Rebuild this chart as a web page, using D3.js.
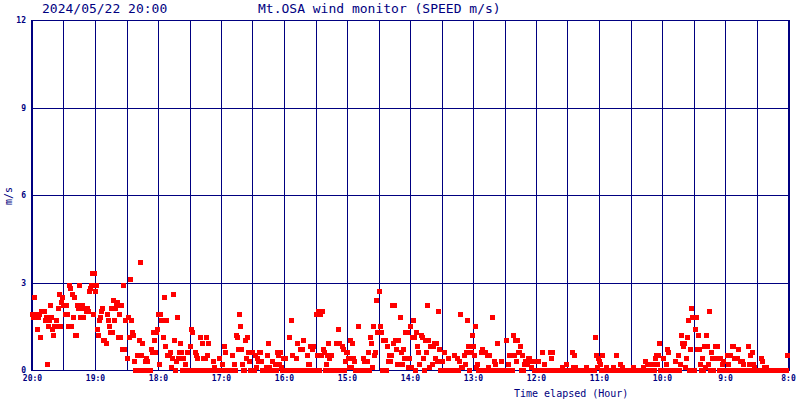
<!DOCTYPE html>
<html><head><meta charset="utf-8">
<script src="https://cdn.jsdelivr.net/npm/d3@7"></script>
<style>html,body{margin:0;padding:0;background:#fff;overflow:hidden}</style>
</head><body>
<svg id="chart" width="800" height="400"></svg>
<script>
const titleDate = "2024/05/22 20:00";
const titleText = "Mt.OSA wind monitor (SPEED m/s)";
const yAxisLabel = "m/s";
const xAxisLabel = "Time elapsed (Hour)";
const yTicks = [0, 3, 6, 9, 12];
const hourTicks = [20, 19, 18, 17, 16, 15, 14, 13, 12, 11, 10, 9, 8];
const hourLabels = ["20:0","19:0","18:0","17:0","16:0","15:0","14:0","13:0","12:0","11:0","10:0","9:0","8:0"];
const startHour = 20;      // newest sample (left edge)
const endHour = 8;         // oldest sample (right edge)
const minutesPerSample = 1;

// wind speed (m/s), one value per minute going back from 20:00
const speed = [
  // 20:00 -> 19:00
  1.9,1.8,2.5,1.8,1.9,1.4,1.8,1.9,1.1,2.0, 2.0,2.0,1.7,1.8,0.2,1.5,1.7,2.2,1.8,1.4,
  1.2,1.5,1.5,1.7,1.5,2.1,2.6,1.5,2.3,2.5, 2.2,1.9,2.2,1.9,1.5,2.9,2.8,1.5,2.6,1.8,
  2.5,1.2,1.2,2.2,2.1,2.9,1.8,2.1,2.2,1.8, 2.1,2.0,2.1,2.0,2.7,2.8,2.9,3.3,1.9,3.3,
  // 19:00 -> 18:00
  2.7,2.9,1.4,1.2,1.7,1.8,2.0,2.1,1.0,1.0, 0.9,1.9,1.7,1.5,1.3,2.1,1.3,2.4,1.7,2.1,
  2.2,2.3,1.1,1.9,1.1,2.2,0.7,2.9,0.7,1.7, 0.4,1.8,1.1,3.1,1.7,1.3,1.2,0.3,0,0,
  0.5,0,1.0,3.7,0.5,0.9,0,0,0.3,0.4, 0.3,0,0,0.7,0.6,1.3,1.0,0.6,1.3,1.4,
  // 18:00 -> 17:00
  1.9,0.2,1.9,1.7,1.7,1.1,2.5,0.8,1.7,0.5, 0.5,0.6,0.1,0.4,2.6,1.0,0,0.3,1.8,0.4,
  0.6,0.9,0.6,0,0.4,0,0.2,0,0.6,0, 0.8,1.4,1.3,0,0,0.6,0.5,0.4,0,0,
  1.1,0,0.9,0.4,0,0.4,1.1,0.5,0.9,0, 0,0,0.3,0.1,0,0,0,0,0.4,0,
  // 17:00 -> 16:00
  0,0.2,0,0.8,0.6,0,0,0,0,0, 0.5,0,0.2,0,1.2,1.1,0.7,1.9,1.5,0.7,
  0.2,0,0,1.0,0.4,1.1,0.6,0.3,0,0, 0.6,0,0.5,0.1,0.4,0.3,0.6,0.6,0.3,0,
  0,0,0,0.1,0.5,0.9,0.1,0,0,0.3, 0,0.2,0,0.6,0.5,0.2,0.6,0.1,0,0.4,
  // 16:00 -> 15:00
  0,0.4,0,0,0,1.1,0,1.7,0.5,0, 0,0.4,0.9,0,0,0.7,0,0.7,1.0,0,
  0,0,0.5,0.2,0.2,0.8,0,0.7,0.8,0, 1.9,0.5,2.0,0,1.9,0.5,2.0,0.7,0.6,0,
  0.2,0.5,0.9,0.4,0,0.5,0,0,0,0, 0.9,1.4,0.9,0,0,0.8,0.7,0,0.3,0.6,
  // 15:00 -> 14:00
  0.6,0.4,0.1,1.0,0.1,0.9,0.4,0.3,0,0, 1.5,0,0,0,0,0.4,0.3,0,0,0.3,
  0.6,0,1.1,0.9,0.1,1.5,0.5,0.6,2.4,1.3, 2.7,1.5,1.3,0,1.0,0,1.0,0,0.8,0.3,
  0.5,0.3,0.5,2.2,0.9,2.2,1.0,0.7,0.2,1.0, 1.8,0.6,0.2,0.7,0.4,1.3,0.4,1.3,0.1,0.4,
  // 14:00 -> 13:00
  1.5,0.1,1.1,1.7,1.1,0,1.3,0.8,0.6,0.2, 1.2,1.1,0.4,0,1.0,0.6,2.2,1.0,0.1,0.8,
  0.8,0.2,0.8,0.9,0.4,0.9,0.3,2.0,0.7,0, 0.3,0,0.6,0,0,0,0.4,0,0,0,
  0,0,0.5,0,0,0.4,0,0.3,1.9,0.1, 0.1,0.5,0.2,0.6,1.7,0.8,0,0.6,0.6,1.2,
  // 13:00 -> 12:00
  0.8,0.5,1.5,0.1,0.2,0,0,0,0.6,0.7, 0,0.6,0,0.5,0.1,0.5,0,0,1.8,0,
  0.3,0.2,0,0.9,0,0,0,0.3,0,0, 0,1.0,0,0.2,0.5,0,0,0,1.2,0.5,
  1.0,0.3,1.0,0.6,0.6,0.8,0,0.5,0,0.2, 0.3,0.2,0.4,0.4,0.3,0.1,0.3,0.3,0,0.3,
  // 12:00 -> 11:00
  0.3,0,0.3,0,0,0,0.6,0,0.2,0, 0,0,0,0.6,0.4,0.6,0,0,0,0,
  0,0,0,0,0,0.1,0,0,0,0.2, 0,0,0,0,0.6,0.1,0.5,0.1,0,0,
  0,0,0,0,0,0,0,0,0.1,0, 0,0,0,0,0,0,1.1,0.5,0.1,0.4,
  // 11:00 -> 10:00
  0.3,0.2,0,0.5,0,0,0,0.1,0,0, 0,0,0,0.1,0,0,0.5,0,0,0,
  0.2,0,0.1,0,0,0,0,0,0,0, 0,0,0.1,0,0,0,0,0,0,0,
  0,0,0.1,0,0.3,0,0.2,0,0,0, 0.2,0,0,0.4,0.5,0.2,0.5,0.9,0,0,
  // 10:00 -> 9:00
  0,0.4,0,0,0.2,0.7,0.6,0,0,0, 0,0,0.3,0,0,0.5,0,0.2,1.2,0.9,
  0.8,0.9,0.1,0.4,1.1,1.7,0,0.7,2.1,1.8, 0,1.4,1.8,0.7,1.2,0.7,0.2,0,0.4,0,
  0.8,0.1,1.2,0.8,0.2,2.0,0,0.6,0.4,0, 0.8,0.4,0.8,0.4,0,0.4,0,0.2,0.3,0,
  // 9:00 -> 8:00
  0,0,0.5,0.2,0,0.5,0,0.8,0.8,0.4, 0,0.4,0.7,0,0.3,0,0.3,0.2,0,0,
  0,0,0.8,0.2,0.5,0,0.6,0.2,0.1,0, 0,0,0,0,0.4,0.3,0,0.1,0,0.1,
  0,0,0,0,0,0,0,0,0,0, 0,0,0,0,0,0,0,0,0,0.5
];

const navy = "#000080";
const svg = d3.select("#chart");
svg.append("rect").attr("width", 800).attr("height", 400).attr("fill", "#fff");

const x = d3.scaleLinear().domain([startHour, endHour]).range([32.5, 788.5]);
const y = d3.scaleLinear().domain([0, 12]).range([370, 20]);
const crisp = v => Math.floor(v) + 0.5;

// grid
const g = svg.append("g").attr("shape-rendering", "crispEdges");
const halfHours = d3.range(startHour, endHour - 0.01, -0.5);
g.selectAll("line.v").data(halfHours.slice(1, -1)).join("line")
  .attr("x1", d => crisp(x(d))).attr("x2", d => crisp(x(d)))
  .attr("y1", y(12)).attr("y2", y(0))
  .attr("stroke", navy).attr("stroke-width", 1);
g.selectAll("line.h").data(yTicks).join("line")
  .attr("x1", x(startHour)).attr("x2", x(endHour))
  .attr("y1", d => Math.round(y(d)) + 0.5).attr("y2", d => Math.round(y(d)) + 0.5)
  .attr("stroke", navy).attr("stroke-width", 1);
// heavy side borders
g.append("rect").attr("x", Math.floor(x(startHour)) - 1).attr("y", y(12)).attr("width", 2).attr("height", y(0) - y(12) + 1).attr("fill", navy);
g.append("rect").attr("x", Math.floor(x(endHour)) - 0).attr("y", y(12)).attr("width", 2).attr("height", y(0) - y(12) + 1).attr("fill", navy);

// points
svg.append("g").attr("shape-rendering", "crispEdges")
  .selectAll("rect").data(speed).join("rect")
  .attr("x", (d, i) => Math.round(x(startHour - i * minutesPerSample / 60) - 2.5))
  .attr("y", d => Math.round(y(d) - 2.5))
  .attr("width", 5).attr("height", 5)
  .attr("fill", "#ff0000");

// y tick labels
svg.append("g").selectAll("text").data(yTicks).join("text")
  .attr("x", 26).attr("y", d => y(d) + 3)
  .attr("text-anchor", "end")
  .attr("font-family", "DejaVu Sans Mono").attr("font-size", 8).attr("font-weight", "bold")
  .attr("fill", navy).text(d => d);

// x tick labels
svg.append("g").selectAll("text").data(hourTicks).join("text")
  .attr("x", d => x(d)).attr("y", 381)
  .attr("text-anchor", "middle")
  .attr("font-family", "DejaVu Sans Mono").attr("font-size", 8).attr("font-weight", "bold")
  .attr("fill", navy).text((d, i) => hourLabels[i]);

// titles
svg.append("text").attr("x", 42).attr("y", 13)
  .attr("font-family", "DejaVu Sans Mono").attr("font-size", 13)
  .attr("fill", navy).text(titleDate);
svg.append("text").attr("x", 258).attr("y", 13)
  .attr("font-family", "DejaVu Sans Mono").attr("font-size", 13)
  .attr("fill", navy).text(titleText);
svg.append("text").attr("x", 514).attr("y", 397)
  .attr("font-family", "DejaVu Sans Mono").attr("font-size", 10)
  .attr("fill", navy).text(xAxisLabel);
svg.append("text").attr("transform", "translate(12,196) rotate(-90)")
  .attr("text-anchor", "middle")
  .attr("font-family", "DejaVu Sans Mono").attr("font-size", 10)
  .attr("fill", navy).text(yAxisLabel);
</script>
</body></html>
